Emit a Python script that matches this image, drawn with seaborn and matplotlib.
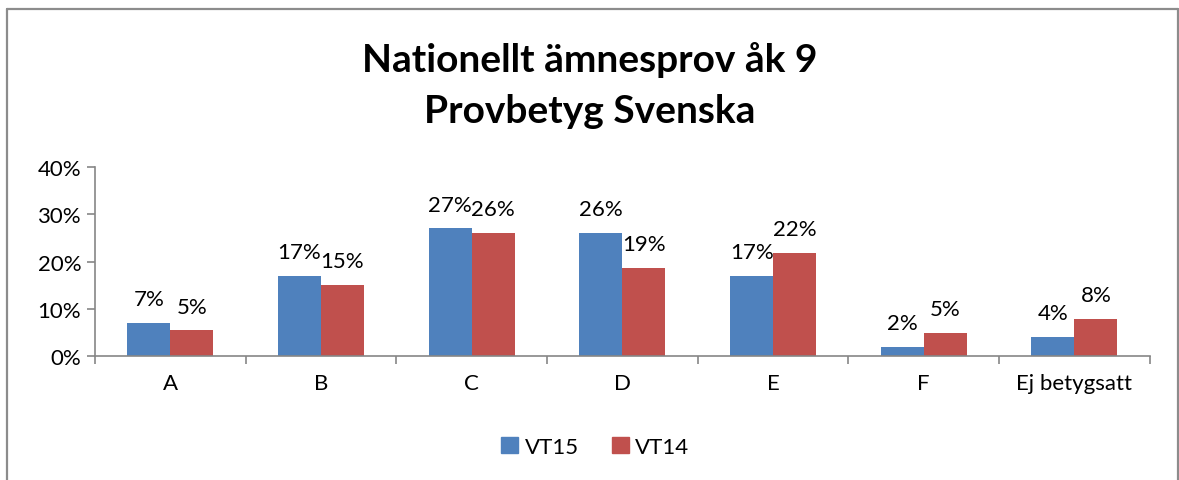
import pandas as pd
import matplotlib
matplotlib.use("Agg")
import matplotlib.pyplot as plt
from matplotlib.lines import Line2D
import seaborn as sns

# Data (percent)
categories = ["A", "B", "C", "D", "E", "F", "Ej betygsatt"]
vt15 = [7.0, 16.9, 27.0, 26.0, 17.0, 1.9, 4.0]
vt14 = [5.4, 15.0, 26.0, 18.6, 21.9, 4.9, 7.9]
series = ["VT15", "VT14"]
colors = ["#4F81BD", "#C0504D"]

df = pd.DataFrame({
    "Betyg": categories * 2,
    "Andel": [v / 100 for v in vt15 + vt14],
    "Period": [series[0]] * len(categories) + [series[1]] * len(categories),
})

sns.set_style("white")
plt.rcParams["font.family"] = ["Lato", "DejaVu Sans"]
plt.rcParams["text.color"] = "black"
plt.rcParams["xtick.labelcolor"] = "black"
plt.rcParams["ytick.labelcolor"] = "black"

fig = plt.figure(figsize=(11.79, 4.81), dpi=100)
ax = fig.add_axes([0.0806, 0.2578, 0.8946, 0.3929])

sns.barplot(data=df, x="Betyg", y="Andel", hue="Period", palette=colors,
            width=0.57, saturation=1, linewidth=0, ax=ax)

for cont in ax.containers:
    ax.bar_label(cont, labels=[f"{h * 100:.0f}%" for h in cont.datavalues],
                 padding=10, fontsize=16, color="black")

ax.set_ylim(0, 0.40)
ax.set_yticks([0, 0.1, 0.2, 0.3, 0.4])
ax.set_yticklabels(["0%", "10%", "20%", "30%", "40%"])
ax.set_xlim(-0.5, len(categories) - 0.5)
ax.set_xlabel("")
ax.set_ylabel("")

# axis styling: gray left and bottom spines, outward ticks
for s in ["top", "right"]:
    ax.spines[s].set_visible(False)
for s in ["left", "bottom"]:
    ax.spines[s].set_color("#868686")
    ax.spines[s].set_linewidth(1.2)
ax.tick_params(axis="y", direction="out", length=6, color="#868686", width=1.2,
               labelsize=16, pad=4, left=True, labelcolor="black")
ax.set_xticks(range(len(categories)))
ax.set_xticklabels(categories)
ax.set_xticks([i - 0.5 for i in range(len(categories) + 1)], minor=True)
ax.tick_params(axis="x", which="major", length=0, labelsize=16, pad=12,
               labelcolor="black")
ax.tick_params(axis="x", which="minor", direction="out", length=6,
               color="#868686", width=1.2, bottom=True)

# legend at the bottom
ax.legend_.remove()
handles = [plt.Rectangle((0, 0), 1, 1, color=c) for c in colors]
fig.legend(handles, series, loc="center", bbox_to_anchor=(0.505, 0.069), ncol=2,
           frameon=False, fontsize=16, handlelength=0.75, handleheight=0.75,
           handletextpad=0.3, columnspacing=1.5, labelcolor="black")

fig.text(0.5, 0.875, "Nationellt ämnesprov åk 9", ha="center", va="center",
         fontsize=28, fontweight="bold", color="black")
fig.text(0.5, 0.768, "Provbetyg Svenska", ha="center", va="center",
         fontsize=28, fontweight="bold", color="black")

# chart frame (left, top, right edges)
x0, x1, ytop = 7 / 1179, 1178 / 1179, 1 - 10 / 481
for xs, ys in [([x0, x0], [0, ytop]), ([x0, x1], [ytop, ytop]), ([x1, x1], [ytop, 0])]:
    fig.add_artist(Line2D(xs, ys, transform=fig.transFigure, color="#8c8c8c", lw=1.6))

fig.savefig("out.png", dpi=100)
